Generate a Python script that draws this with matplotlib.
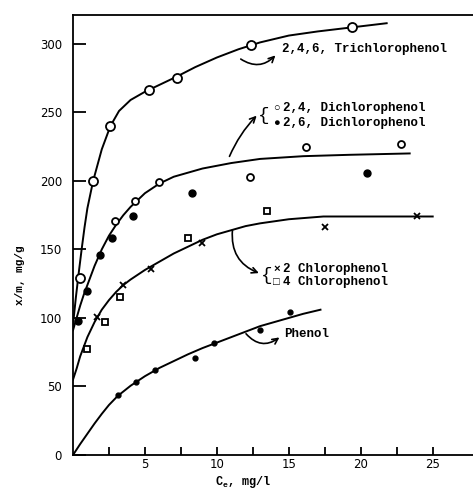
import matplotlib
matplotlib.use("Agg")
import matplotlib.pyplot as plt

# ---- data ----
# 2,4,6-Trichlorophenol (open circles) and fitted curve
tri_x = [0.5, 1.4, 2.6, 5.3, 7.2, 12.4, 19.4]
tri_y = [129, 200, 240, 266, 275, 299, 312]
tri_cx = [0, 0.2, 0.4, 0.6, 0.8, 1.0, 1.4, 2.0, 2.6, 3.2, 4.0, 5.0, 6.0, 7.2, 8.5,
          10, 11.5, 13, 15, 17, 19.4, 21.8]
tri_cy = [95, 115, 133, 150, 166, 180, 200, 223, 240, 251, 259, 265, 270, 276, 283,
          290, 296, 301, 306, 309, 312, 315]

# 2,4-Dichlorophenol (open) / 2,6-Dichlorophenol (filled) and curve
dcp24_x = [2.9, 4.3, 6.0, 12.3, 16.2, 22.8]
dcp24_y = [171, 185, 199, 203, 225, 227]
dcp26_x = [0.35, 1.0, 1.9, 2.7, 4.2, 8.3, 20.4]
dcp26_y = [98, 120, 146, 158, 174, 191, 206]
dcp_cx = [0, 0.25, 0.5, 0.75, 1.0, 1.5, 2.0, 2.5, 3.0, 3.5, 4.0, 5.0, 6.0, 7.0, 8.0,
          9.0, 10, 11, 13, 16, 19.2, 23.4]
dcp_cy = [91, 100, 109, 117, 124, 138, 150, 160, 168, 175, 181, 191, 198, 203, 206,
          209, 211, 213, 216, 218, 219, 220]

# 2-Chlorophenol (x) / 4-Chlorophenol (squares) and curve
cp2_x = [1.65, 3.5, 5.4, 9.0, 17.5, 23.9]
cp2_y = [101, 124, 136, 155, 166, 174]
cp4_x = [1.0, 2.2, 3.3, 8.0, 13.5]
cp4_y = [77, 97, 115, 158, 178]
cp_cx = [0, 0.25, 0.5, 0.75, 1.0, 1.5, 2, 2.5, 3, 3.5, 4, 5, 6, 7, 8, 9, 10, 11, 12,
         13, 15, 17.4, 20, 25]
cp_cy = [55, 63, 72, 79, 86, 97, 106, 113, 119, 124, 128, 135, 141, 147, 152, 157,
         161, 164, 167, 169, 172, 174, 174, 174]

# Phenol (small dots) and curve
ph_x = [3.1, 4.4, 5.7, 8.5, 9.8, 13.0, 15.1]
ph_y = [44, 53, 62, 71, 82, 91, 104]
ph_cx = [0, 0.5, 1, 1.5, 2, 2.5, 3.1, 4, 5, 6, 7, 8, 9, 10, 11, 12, 13, 14, 15, 16, 17.2]
ph_cy = [0, 8, 15.5, 23, 30, 36.5, 43, 50.5, 57.5, 63.5, 68.5, 73.5, 78, 82, 86, 90,
         94, 97, 100, 103, 106]

xticks_major = [5, 10, 15, 20, 25]
yticks_major = [0, 50, 100, 150, 200, 250, 300]

mono = ['Liberation Mono', 'DejaVu Sans Mono']

fig = plt.figure(figsize=(4.73, 4.96), dpi=100)
ax = fig.add_axes([73/473, 1-455/496, 1-73/473, (455-15)/496])
ax.set_xlim(0, 27.8)
ax.set_ylim(0, 321)

lw = 1.4
for cx, cy in [(tri_cx, tri_cy), (dcp_cx, dcp_cy), (cp_cx, cp_cy), (ph_cx, ph_cy)]:
    ax.plot(cx, cy, color='black', lw=lw, solid_joinstyle='round')

ax.plot(tri_x, tri_y, 'o', ms=6.5, mfc='white', mec='black', mew=1.3, ls='none')
ax.plot(dcp24_x, dcp24_y, 'o', ms=5, mfc='white', mec='black', mew=1.3, ls='none')
ax.plot(dcp26_x, dcp26_y, 'o', ms=5, mfc='black', mec='black', ls='none')
ax.plot(cp2_x, cp2_y, 'x', ms=5, mec='black', mew=1.3, ls='none')
ax.plot(cp4_x, cp4_y, 's', ms=4.5, mfc='white', mec='black', mew=1.3, ls='none')
ax.plot(ph_x, ph_y, 'o', ms=3.5, mfc='black', mec='black', ls='none')

# spines & ticks
ax.spines['right'].set_visible(False)
for s in ['left', 'bottom', 'top']:
    ax.spines[s].set_linewidth(1.3)
ax.set_xticks(xticks_major)
ax.set_xticks([2.5, 7.5, 12.5, 17.5, 22.5], minor=True)
ax.set_yticks(yticks_major)
ax.tick_params(axis='y', direction='in', length=9, width=1.3, pad=8, labelsize=8.5)
ax.tick_params(axis='x', which='both', direction='in', length=6, width=1.3, pad=2, labelsize=8.5)

# annotations
tk = dict(family=mono, fontsize=9, fontweight='bold', va='center', ha='left')
mk = dict(family=mono, fontsize=8, fontweight='bold', va='center', ha='center')
ax.text(14.5, 296, "2,4,6, Trichlorophenol", **tk)
ax.annotate('', xy=(14.2, 293), xytext=(11.5, 290),
            arrowprops=dict(arrowstyle='->', connectionstyle='arc3,rad=0.45', lw=1.2, color='black'))

ax.text(13.25, 247.5, "{", family=mono, fontsize=14, va='center', ha='center')
ax.text(14.15, 253, "○", **mk)
ax.text(14.15, 242, "●", **mk)
ax.text(14.6, 253, "2,4, Dichlorophenol", **tk)
ax.text(14.6, 242, "2,6, Dichlorophenol", **tk)
ax.annotate('', xy=(12.9, 249), xytext=(10.8, 216),
            arrowprops=dict(arrowstyle='->', connectionstyle='arc3,rad=-0.1', lw=1.2, color='black'))

ax.text(13.5, 131, "{", family=mono, fontsize=14, va='center', ha='center')
ax.text(14.15, 136, "×", **mk)
ax.text(14.15, 126, "□", **mk)
ax.text(14.6, 136, "2 Chlorophenol", **tk)
ax.text(14.6, 126, "4 Chlorophenol", **tk)
ax.annotate('', xy=(13.1, 132), xytext=(11.1, 166),
            arrowprops=dict(arrowstyle='->', connectionstyle='arc3,rad=0.4', lw=1.2, color='black'))

ax.text(14.7, 88, "Phenol", **tk)
ax.annotate('', xy=(14.5, 87), xytext=(11.9, 90),
            arrowprops=dict(arrowstyle='->', connectionstyle='arc3,rad=0.5', lw=1.2, color='black'))

fig.text(20/473, 1-275/496, "x/m, mg/g", rotation=90, family=mono, fontsize=8,
         fontweight='bold', ha='center', va='center')
fig.text(243/473, 1-482/496, r"C$_\mathregular{e}$, mg/l", family=mono, fontsize=8.5,
         fontweight='bold', ha='center', va='center')

fig.savefig("out.png", dpi=100)
